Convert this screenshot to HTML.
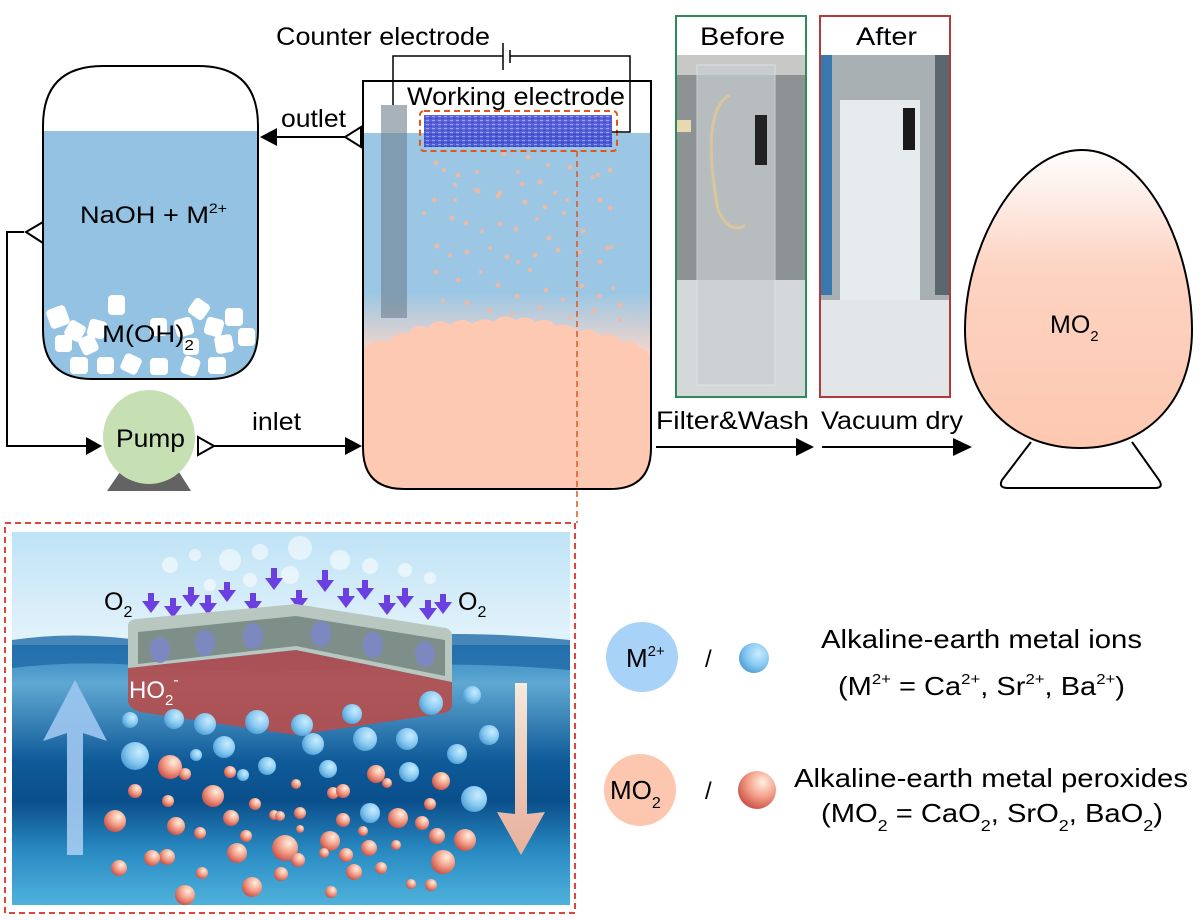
<!DOCTYPE html>
<html><head><meta charset="utf-8"><style>
html,body{margin:0;padding:0;background:#fff}
svg{display:block}
text{font-family:"Liberation Sans",sans-serif;}
</style></head><body>
<svg width="1204" height="920" viewBox="0 0 1204 920" xmlns="http://www.w3.org/2000/svg">
<defs>
 <linearGradient id="react" x1="0" y1="0" x2="0" y2="1">
  <stop offset="0" stop-color="#9cc7e4"/><stop offset="0.45" stop-color="#9cc7e4"/>
  <stop offset="0.62" stop-color="#f6d6cb"/><stop offset="1" stop-color="#fdcab3"/>
 </linearGradient>
 <linearGradient id="egg" x1="0" y1="0" x2="0" y2="1">
  <stop offset="0" stop-color="#ffffff"/><stop offset="0.4" stop-color="#fdd3c2"/><stop offset="1" stop-color="#fdc8b0"/>
 </linearGradient>
 <linearGradient id="sky" x1="0" y1="0" x2="0" y2="1">
  <stop offset="0" stop-color="#bfe3f6"/><stop offset="1" stop-color="#e6f4fb"/>
 </linearGradient>
 <linearGradient id="sea" x1="0" y1="0" x2="0" y2="1">
  <stop offset="0" stop-color="#2f86c0"/><stop offset="0.15" stop-color="#5fa8d2"/>
  <stop offset="0.45" stop-color="#0e5a98"/><stop offset="0.6" stop-color="#0a4f8c"/>
  <stop offset="0.8" stop-color="#2a8cc3"/><stop offset="1" stop-color="#4fb2dc"/>
 </linearGradient>
 <radialGradient id="bb" cx="0.65" cy="0.35" r="0.7">
  <stop offset="0" stop-color="#c9ecff"/><stop offset="0.6" stop-color="#86c8f0"/><stop offset="1" stop-color="#4f9fd6"/>
 </radialGradient>
 <radialGradient id="ob" cx="0.65" cy="0.3" r="0.75">
  <stop offset="0" stop-color="#fff0e0"/><stop offset="0.5" stop-color="#f4a28c"/><stop offset="1" stop-color="#c94f45"/>
 </radialGradient>
 <linearGradient id="upA" x1="0" y1="1" x2="0" y2="0">
  <stop offset="0" stop-color="#a6cdf2"/><stop offset="1" stop-color="#9bc6f0"/>
 </linearGradient>
 <linearGradient id="dnA" x1="0" y1="0" x2="0" y2="1">
  <stop offset="0" stop-color="#fdeedd"/><stop offset="1" stop-color="#f4b29a"/>
 </linearGradient>
 <pattern id="mesh" width="6" height="4" patternUnits="userSpaceOnUse">
  <rect width="6" height="4" fill="#4a52d8"/><rect width="3" height="1" fill="#8aa0f0"/><rect x="3" y="2" width="3" height="1" fill="#2a30b0"/>
 </pattern>
</defs>

<!-- Left tank -->
<path d="M43,131 L258,131 L258,330 Q258,379 209,379 L92,379 Q43,379 43,330 Z" fill="#93c2e3"/>
<g fill="#fff">
 <rect x="48" y="307" width="20" height="20" rx="4" transform="rotate(-20 58 317)"/>
 <rect x="66" y="322" width="18" height="18" rx="4" transform="rotate(30 75 331)"/>
 <rect x="108" y="295" width="17" height="20" rx="4"/>
 <rect x="88" y="320" width="18" height="18" rx="4" transform="rotate(15 97 329)"/>
 <rect x="55" y="335" width="17" height="17" rx="4"/>
 <rect x="80" y="336" width="17" height="18" rx="4" transform="rotate(-25 88 345)"/>
 <rect x="70" y="357" width="18" height="17" rx="4"/>
 <rect x="97" y="357" width="17" height="17" rx="4"/>
 <rect x="122" y="355" width="18" height="18" rx="4" transform="rotate(25 131 364)"/>
 <rect x="150" y="358" width="18" height="17" rx="4"/>
 <rect x="182" y="357" width="17" height="18" rx="4" transform="rotate(20 190 366)"/>
 <rect x="208" y="357" width="18" height="17" rx="4"/>
 <rect x="190" y="300" width="18" height="18" rx="4" transform="rotate(35 199 309)"/>
 <rect x="175" y="318" width="18" height="18" rx="4" transform="rotate(-15 184 327)"/>
 <rect x="205" y="318" width="18" height="18" rx="4" transform="rotate(15 214 327)"/>
 <rect x="225" y="308" width="18" height="18" rx="4"/>
 <rect x="238" y="328" width="17" height="18" rx="4"/>
 <rect x="215" y="335" width="18" height="18" rx="4" transform="rotate(-10 224 344)"/>
 <rect x="150" y="318" width="17" height="18" rx="4"/>
 <rect x="183" y="338" width="16" height="17" rx="4"/>
</g>
<path d="M43,126 Q43,66 103,66 L198,66 Q258,66 258,126 L258,330 Q258,379 209,379 L92,379 Q43,379 43,330 Z" fill="none" stroke="#000" stroke-width="2"/>
<text x="80" y="223" font-size="24" textLength="147" lengthAdjust="spacingAndGlyphs">NaOH + M<tspan font-size="14" dy="-10">2+</tspan></text>
<text x="102" y="342" font-size="24" textLength="92" lengthAdjust="spacingAndGlyphs">M(OH)<tspan font-size="15" dy="8">2</tspan></text>

<!-- Pump -->
<polygon points="120,472 179,472 191,491 107,491" fill="#636363"/>
<ellipse cx="149" cy="437" rx="46" ry="47" fill="#c6e0b4"/>
<text x="116" y="447" font-size="25" textLength="69" lengthAdjust="spacingAndGlyphs">Pump</text>
<!-- lines -->
<polyline points="24,232 7,232 7,446 86,446" fill="none" stroke="#000" stroke-width="2"/>
<polygon points="86,437 102,446 86,455" fill="#000"/>
<polygon points="43,222 26,232 43,243" fill="#fff" stroke="#000" stroke-width="2"/>
<polygon points="198,437 214,446 198,455" fill="#fff" stroke="#000" stroke-width="2"/>
<line x1="214" y1="446" x2="346" y2="446" stroke="#000" stroke-width="2"/>
<polygon points="345,437 362,446 345,455" fill="#000"/>
<text x="252" y="430" font-size="25" textLength="49" lengthAdjust="spacingAndGlyphs">inlet</text>
<polygon points="361,127 345,137 361,147" fill="#fff" stroke="#000" stroke-width="2"/>
<line x1="345" y1="137" x2="276" y2="137" stroke="#000" stroke-width="2"/>
<polygon points="277,128 260,137 277,146" fill="#000"/>
<text x="281" y="127" font-size="25" textLength="65" lengthAdjust="spacingAndGlyphs">outlet</text>

<!-- Reactor -->
<path d="M363,133 L651,133 L651,448 Q651,489 610,489 L404,489 Q363,489 363,448 Z" fill="url(#react)"/>
<g fill="#f7b89e" opacity="0.85">
 <circle cx="436" cy="163" r="2.5"/><circle cx="444" cy="170" r="2"/><circle cx="458" cy="175" r="2.5"/><circle cx="477" cy="172" r="2"/><circle cx="504" cy="154" r="2.5"/><circle cx="528" cy="157" r="2.5"/><circle cx="548" cy="165" r="2"/><circle cx="570" cy="167" r="2.5"/><circle cx="598" cy="175" r="2"/><circle cx="610" cy="170" r="2.5"/>
 <circle cx="455" cy="185" r="2"/><circle cx="478" cy="191" r="2.5"/><circle cx="518" cy="172" r="2"/><circle cx="522" cy="184" r="2.5"/><circle cx="540" cy="182" r="2.5"/><circle cx="555" cy="193" r="2"/><circle cx="593" cy="177" r="2"/><circle cx="600" cy="200" r="2.5"/>
 <circle cx="434" cy="200" r="2.5"/><circle cx="455" cy="200" r="2"/><circle cx="476" cy="190" r="2"/><circle cx="498" cy="196" r="2.5"/><circle cx="500" cy="193" r="2.5"/><circle cx="525" cy="202" r="2.5"/><circle cx="545" cy="207" r="2.5"/><circle cx="567" cy="200" r="2"/><circle cx="610" cy="208" r="2.5"/>
 <circle cx="424" cy="213" r="2"/><circle cx="452" cy="218" r="2.5"/><circle cx="466" cy="223" r="2.5"/><circle cx="482" cy="231" r="2"/><circle cx="500" cy="224" r="2.5"/><circle cx="516" cy="229" r="2.5"/><circle cx="537" cy="219" r="2"/><circle cx="549" cy="238" r="2.5"/><circle cx="564" cy="213" r="2"/><circle cx="583" cy="231" r="2.5"/><circle cx="607" cy="248" r="2.5"/>
 <circle cx="437" cy="246" r="2.5"/><circle cx="450" cy="255" r="2"/><circle cx="467" cy="252" r="2.5"/><circle cx="490" cy="248" r="2"/><circle cx="507" cy="257" r="2.5"/><circle cx="518" cy="262" r="2"/><circle cx="535" cy="255" r="2.5"/><circle cx="558" cy="250" r="2.5"/><circle cx="580" cy="252" r="2"/><circle cx="600" cy="262" r="2.5"/><circle cx="612" cy="247" r="2"/>
 <circle cx="436" cy="272" r="2.5"/><circle cx="458" cy="280" r="2.5"/><circle cx="481" cy="272" r="2"/><circle cx="498" cy="285" r="2.5"/><circle cx="517" cy="296" r="2.5"/><circle cx="530" cy="270" r="2"/><circle cx="546" cy="290" r="2.5"/><circle cx="563" cy="300" r="2"/><circle cx="582" cy="286" r="2.5"/><circle cx="599" cy="296" r="2.5"/><circle cx="613" cy="288" r="2"/>
 <circle cx="443" cy="301" r="2"/><circle cx="467" cy="303" r="2.5"/><circle cx="490" cy="310" r="2.5"/><circle cx="512" cy="314" r="2"/><circle cx="540" cy="308" r="2.5"/><circle cx="570" cy="318" r="2"/><circle cx="594" cy="311" r="2.5"/><circle cx="620" cy="305" r="2.5"/><circle cx="620" cy="320" r="2"/>
</g>
<path d="M363,350 Q372,338 390,342 Q396,330 410,334 Q412,322 428,328 Q436,316 450,325 Q462,315 472,324 Q484,316 494,322 Q502,312 516,320 Q526,314 536,322 Q548,316 556,326 Q570,322 578,332 Q592,326 600,336 Q614,330 620,342 Q632,338 640,348 Q650,350 651,360 L651,448 Q651,489 610,489 L404,489 Q363,489 363,448 Z" fill="#fdc9b2"/>
<rect x="381" y="105" width="26" height="213" fill="#6e7f8e" opacity="0.6"/>
<rect x="424" y="115" width="188" height="32" fill="url(#mesh)" opacity="0.9"/>
<rect x="420" y="111" width="197" height="40" rx="4" fill="none" stroke="#e0561e" stroke-width="2" stroke-dasharray="6,4"/>
<line x1="577" y1="151" x2="577" y2="523" stroke="#e0561e" stroke-width="1.5" stroke-dasharray="6,4"/>
<path d="M363,81 L651,81 L651,448 Q651,489 610,489 L404,489 Q363,489 363,448 Z" fill="none" stroke="#000" stroke-width="2"/>
<polyline points="393,105 393,56 503,56" fill="none" stroke="#000" stroke-width="1.5"/>
<line x1="503" y1="43" x2="503" y2="70" stroke="#000" stroke-width="1.5"/>
<line x1="510" y1="50" x2="510" y2="63" stroke="#000" stroke-width="1.5"/>
<polyline points="510,56 630,56 630,132 612,132" fill="none" stroke="#000" stroke-width="1.5"/>
<text x="276" y="45" font-size="25" textLength="214" lengthAdjust="spacingAndGlyphs">Counter electrode</text>
<text x="407" y="105" font-size="25" textLength="218" lengthAdjust="spacingAndGlyphs">Working electrode</text>

<!-- Photos -->
<rect x="676" y="55" width="130" height="342" fill="#8d9294"/>
<rect x="676" y="55" width="130" height="20" fill="#c8c8c6"/>
<rect x="676" y="280" width="130" height="117" fill="#d4d8da"/>
<rect x="697" y="65" width="78" height="320" fill="#c9cfd2" opacity="0.7" stroke="#e8eaea"/>
<rect x="755" y="115" width="12" height="50" fill="#222"/>
<path d="M730,95 Q700,110 718,210 Q730,235 745,225" fill="none" stroke="#d9c79b" stroke-width="3"/>
<rect x="676" y="120" width="15" height="12" fill="#e8d9b0"/>
<rect x="820" y="55" width="130" height="342" fill="#a8b0b4"/>
<rect x="820" y="55" width="12" height="240" fill="#3a78b0"/>
<rect x="935" y="55" width="15" height="240" fill="#5a6670"/>
<rect x="840" y="100" width="80" height="270" fill="#e6ebed"/>
<rect x="820" y="300" width="130" height="97" fill="#e2e6e8"/>
<rect x="903" y="108" width="12" height="42" fill="#1a1a1a"/>
<rect x="676" y="16" width="130" height="381" fill="none" stroke="#2f8a5a" stroke-width="2"/>
<rect x="820" y="16" width="130" height="381" fill="none" stroke="#b33a3a" stroke-width="2"/>
<text x="700" y="45" font-size="25" textLength="85" lengthAdjust="spacingAndGlyphs">Before</text>
<text x="856" y="45" font-size="25" textLength="61" lengthAdjust="spacingAndGlyphs">After</text>

<!-- arrows right -->
<text x="656" y="429" font-size="25" textLength="153" lengthAdjust="spacingAndGlyphs">Filter&amp;Wash</text>
<text x="821" y="429" font-size="25" textLength="142" lengthAdjust="spacingAndGlyphs">Vacuum dry</text>
<line x1="656" y1="447" x2="798" y2="447" stroke="#000" stroke-width="2"/>
<polygon points="796,438 814,447 796,456" fill="#000"/>
<line x1="822" y1="447" x2="955" y2="447" stroke="#000" stroke-width="2"/>
<polygon points="953,438 972,447 953,456" fill="#000"/>

<!-- Egg -->
<path d="M1031,442 L1002,480 Q998,488 1008,488 L1155,488 Q1164,488 1159,480 L1132,442" fill="#fff" stroke="#000" stroke-width="2"/>
<path d="M1082,150 C1145,150 1192,245 1192,330 C1192,400 1148,448 1080,448 C1012,448 965,400 965,330 C965,245 1018,150 1082,150 Z" fill="url(#egg)" stroke="#000" stroke-width="2"/>
<text x="1050" y="333" font-size="25">MO<tspan font-size="15" dy="8">2</tspan></text>

<!-- Inset -->
<rect x="5" y="523" width="570" height="390" fill="none" stroke="#e0443a" stroke-width="2" stroke-dasharray="6,4"/>
<rect x="12" y="532" width="558" height="118" fill="url(#sky)"/>
<rect x="12" y="645" width="558" height="260" fill="url(#sea)"/>
<path d="M12,640 Q80,630 150,642 Q250,650 350,640 Q450,628 570,640 L570,670 Q450,660 350,668 Q250,676 150,666 Q80,660 12,668 Z" fill="#1f6aa8" opacity="0.8"/>
<g fill="#fff" opacity="0.55">
 <circle cx="170" cy="565" r="8"/><circle cx="195" cy="555" r="6"/><circle cx="230" cy="560" r="11"/><circle cx="260" cy="552" r="8"/><circle cx="300" cy="548" r="12"/><circle cx="340" cy="560" r="10"/><circle cx="370" cy="566" r="8"/><circle cx="405" cy="570" r="7"/><circle cx="430" cy="578" r="6"/><circle cx="290" cy="575" r="9"/><circle cx="250" cy="580" r="7"/><circle cx="210" cy="585" r="6"/>
</g>
<g fill="#6b3fe0">
 <path d="M148,593 h6 v8 h6 l-9,12 l-9,-12 h6z"/><path d="M170,598 h6 v8 h6 l-9,12 l-9,-12 h6z"/><path d="M188,587 h6 v8 h6 l-9,12 l-9,-12 h6z"/><path d="M205,595 h6 v8 h6 l-9,12 l-9,-12 h6z"/><path d="M224,582 h6 v8 h6 l-9,12 l-9,-12 h6z"/><path d="M250,593 h6 v8 h6 l-9,12 l-9,-12 h6z"/><path d="M271,568 h6 v10 h6 l-9,12 l-9,-12 h6z"/><path d="M296,590 h6 v8 h6 l-9,12 l-9,-12 h6z"/><path d="M322,570 h6 v10 h6 l-9,12 l-9,-12 h6z"/><path d="M343,588 h6 v8 h6 l-9,12 l-9,-12 h6z"/><path d="M362,580 h6 v8 h6 l-9,12 l-9,-12 h6z"/><path d="M384,595 h6 v8 h6 l-9,12 l-9,-12 h6z"/><path d="M402,588 h6 v8 h6 l-9,12 l-9,-12 h6z"/><path d="M425,600 h6 v8 h6 l-9,12 l-9,-12 h6z"/><path d="M440,594 h6 v8 h6 l-9,12 l-9,-12 h6z"/>
</g>
<text x="104" y="610" font-size="25">O<tspan font-size="16" dy="7">2</tspan></text>
<text x="458" y="610" font-size="25">O<tspan font-size="16" dy="7">2</tspan></text>
<!-- slab -->
<path d="M128,668 L296,650 L452,682 L452,705 Q452,712 440,714 L296,735 L140,712 Q128,708 128,700 Z" fill="#b44e4e" opacity="0.92"/>
<path d="M128,626 Q128,620 136,619 L296,604 L446,628 Q452,630 452,636 L452,682 L296,650 L128,668 Z" fill="#b8c7c0"/>
<path d="M138,632 L296,616 L445,640 L445,676 L296,646 L138,664 Z" fill="#6f7f7a" opacity="0.8"/>
<g fill="#7d88c8" opacity="0.9">
 <ellipse cx="160" cy="650" rx="10" ry="13"/><ellipse cx="205" cy="643" rx="10" ry="13"/><ellipse cx="253" cy="636" rx="10" ry="13"/><ellipse cx="321" cy="634" rx="10" ry="13"/><ellipse cx="373" cy="645" rx="10" ry="13"/><ellipse cx="425" cy="654" rx="10" ry="13"/>
</g>
<text x="129" y="698" font-size="24" fill="#fff">HO<tspan font-size="15" dy="7">2</tspan><tspan font-size="16" dy="-20">-</tspan></text>
<!-- big arrows -->
<polygon points="67,855 83,855 83,733 107,741 75,680 43,741 67,733" fill="url(#upA)" opacity="0.9"/>
<polygon points="515,683 527,683 527,814 545,812 521,855 497,812 515,814" fill="url(#dnA)" opacity="0.95"/>
<!-- blue balls -->
<g fill="url(#bb)">
 <circle cx="135" cy="756" r="14"/><circle cx="174" cy="719" r="10"/><circle cx="205" cy="724" r="11"/><circle cx="257" cy="722" r="12"/><circle cx="224" cy="747" r="11"/><circle cx="267" cy="766" r="9"/><circle cx="313" cy="744" r="11"/><circle cx="352" cy="714" r="10"/><circle cx="365" cy="739" r="12"/><circle cx="407" cy="739" r="11"/><circle cx="431" cy="703" r="12"/><circle cx="472" cy="695" r="9"/><circle cx="457" cy="754" r="10"/><circle cx="489" cy="735" r="10"/><circle cx="474" cy="799" r="13"/><circle cx="328" cy="769" r="9"/><circle cx="409" cy="772" r="10"/><circle cx="130" cy="720" r="8"/><circle cx="196" cy="755" r="6"/><circle cx="370" cy="813" r="10"/><circle cx="302" cy="725" r="11"/><circle cx="243" cy="775" r="6"/>
</g>
<!-- orange balls -->
<g fill="url(#ob)">
 <circle cx="170" cy="767" r="12"/><circle cx="185" cy="774" r="6"/><circle cx="135" cy="791" r="7"/><circle cx="168" cy="801" r="6"/><circle cx="213" cy="796" r="11"/><circle cx="230" cy="772" r="6"/><circle cx="255" cy="804" r="6"/><circle cx="296" cy="784" r="5"/><circle cx="333" cy="793" r="6"/><circle cx="343" cy="791" r="7"/><circle cx="376" cy="774" r="9"/><circle cx="387" cy="783" r="5"/><circle cx="441" cy="781" r="9"/><circle cx="430" cy="804" r="6"/><circle cx="115" cy="821" r="11"/><circle cx="176" cy="826" r="9"/><circle cx="200" cy="833" r="6"/><circle cx="231" cy="818" r="8"/><circle cx="274" cy="815" r="5"/><circle cx="280" cy="816" r="5"/><circle cx="300" cy="813" r="6"/><circle cx="246" cy="836" r="6"/><circle cx="285" cy="848" r="13"/><circle cx="330" cy="841" r="10"/><circle cx="398" cy="818" r="10"/><circle cx="422" cy="823" r="7"/><circle cx="465" cy="840" r="11"/><circle cx="437" cy="836" r="8"/><circle cx="237" cy="853" r="10"/><circle cx="167" cy="857" r="8"/><circle cx="152" cy="858" r="8"/><circle cx="119" cy="868" r="8"/><circle cx="202" cy="873" r="6"/><circle cx="252" cy="887" r="10"/><circle cx="185" cy="895" r="10"/><circle cx="281" cy="874" r="7"/><circle cx="298" cy="860" r="7"/><circle cx="346" cy="855" r="7"/><circle cx="369" cy="848" r="8"/><circle cx="354" cy="872" r="8"/><circle cx="381" cy="868" r="6"/><circle cx="396" cy="845" r="5"/><circle cx="443" cy="862" r="12"/><circle cx="411" cy="884" r="5"/><circle cx="431" cy="885" r="6"/><circle cx="331" cy="892" r="6"/><circle cx="343" cy="820" r="7"/><circle cx="363" cy="831" r="5"/><circle cx="324" cy="853" r="5"/><circle cx="300" cy="829" r="4"/>
</g>

<!-- Legend -->
<ellipse cx="642" cy="657" rx="36" ry="35" fill="#a9d2f8"/>
<text x="626" y="667" font-size="26">M<tspan font-size="15" dy="-11">2+</tspan></text>
<text x="705" y="667" font-size="24">/</text>
<circle cx="754" cy="658" r="15" fill="url(#bb)"/>
<text x="821" y="648" font-size="26" textLength="321" lengthAdjust="spacingAndGlyphs">Alkaline-earth metal ions</text>
<text x="838" y="695" font-size="26" textLength="287" lengthAdjust="spacingAndGlyphs">(M<tspan font-size="15" dy="-11">2+</tspan><tspan dy="11"> = Ca</tspan><tspan font-size="15" dy="-11">2+</tspan><tspan dy="11">, Sr</tspan><tspan font-size="15" dy="-11">2+</tspan><tspan dy="11">, Ba</tspan><tspan font-size="15" dy="-11">2+</tspan><tspan dy="11">)</tspan></text>
<ellipse cx="640" cy="790" rx="36" ry="36" fill="#fdc6ae"/>
<text x="610" y="799" font-size="26">MO<tspan font-size="16" dy="9">2</tspan></text>
<text x="705" y="799" font-size="24">/</text>
<circle cx="757" cy="790" r="19" fill="url(#ob)"/>
<text x="794" y="787" font-size="26" textLength="394" lengthAdjust="spacingAndGlyphs">Alkaline-earth metal peroxides</text>
<text x="821" y="822" font-size="26" textLength="342" lengthAdjust="spacingAndGlyphs">(MO<tspan font-size="16" dy="9">2</tspan><tspan dy="-9"> = CaO</tspan><tspan font-size="16" dy="9">2</tspan><tspan dy="-9">, SrO</tspan><tspan font-size="16" dy="9">2</tspan><tspan dy="-9">, BaO</tspan><tspan font-size="16" dy="9">2</tspan><tspan dy="-9">)</tspan></text>
</svg>
</body></html>
